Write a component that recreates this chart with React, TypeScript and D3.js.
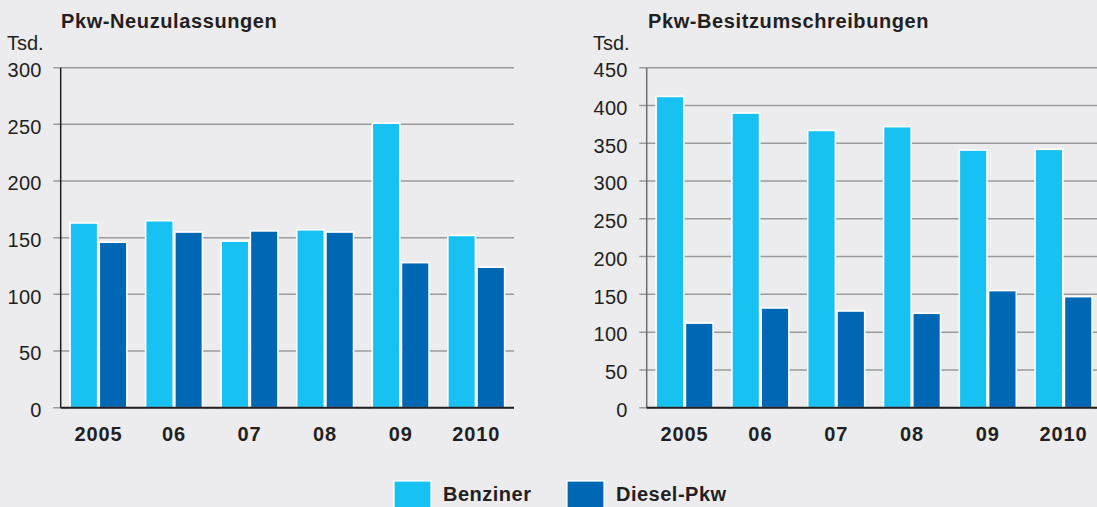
import React from "react";
import * as d3 from "d3";

const years = ["2005", "06", "07", "08", "09", "2010"];
const seriesNames = ["Benziner", "Diesel-Pkw"];
const seriesColors = ["#17C1F1", "#0067B4"];

const neuBenziner = [163, 165, 147, 157, 251, 152];
const neuDiesel = [146, 155, 156, 155, 128, 124];
const neuTicks = [0, 50, 100, 150, 200, 250, 300];

const besBenziner = [412, 390, 367, 372, 341, 342];
const besDiesel = [112, 132, 128, 125, 155, 147];
const besTicks = [0, 50, 100, 150, 200, 250, 300, 350, 400, 450];

const W = 1097;
const H = 507;
const BG = "#ECECEE";
const FONT = "'Liberation Sans', Arial, Helvetica, sans-serif";

type PanelProps = {
  title: string;
  x0: number;
  x1: number;
  gridEnd: number;
  maxV: number;
  ticks: number[];
  a: number[];
  b: number[];
  titleX: number;
  tsdX: number;
  labelGap: number;
  axisColor: string;
};

function Panel(p: PanelProps) {
  const yTop = 67.7;
  const yBot = 407.7;
  const y = d3.scaleLinear().domain([0, p.maxV]).range([yBot, yTop]);
  const xg = d3
    .scaleBand<string>()
    .domain(years)
    .range([p.x0, p.x1])
    .paddingInner(0.227)
    .paddingOuter(0.1135);
  const xs = d3.scaleBand<string>().domain(seriesNames).range([0, xg.bandwidth()]);
  const sw = 1.6;
  const data = [p.a, p.b];
  return (
    <g>
      <text
        x={p.titleX}
        y={28.3}
        fontFamily={FONT}
        fontWeight="bold"
        fontSize={20}
        letterSpacing={0.6}
        fill="#231f20"
      >
        {p.title}
      </text>
      <text x={p.tsdX} y={50} fontFamily={FONT} fontSize={20} fill="#231f20">
        Tsd.
      </text>
      {p.ticks.map((t) => (
        <g key={t}>
          <line
            x1={p.x0 - 7.4}
            x2={p.gridEnd}
            y1={y(t)}
            y2={y(t)}
            stroke="#9b9b9d"
            strokeWidth={1.5}
          />
          <text
            x={p.x0 - 7.4 - p.labelGap}
            y={y(t) + 9.3}
            textAnchor="end"
            fontFamily={FONT}
            fontSize={20}
            letterSpacing={0.3}
            fill="#231f20"
          >
            {t}
          </text>
        </g>
      ))}
      {years.map((yr, i) => (
        <g key={yr} transform={`translate(${xg(yr)},0)`}>
          {seriesNames.map((s, j) => (
            <rect
              key={s}
              x={(xs(s) as number) + sw / 2}
              y={y(data[j][i])}
              width={xs.bandwidth() - sw}
              height={yBot - y(data[j][i])}
              fill={seriesColors[j]}
              stroke="#ffffff"
              strokeWidth={sw}
            />
          ))}
          <text
            x={xg.bandwidth() / 2}
            y={441}
            textAnchor="middle"
            fontFamily={FONT}
            fontWeight="bold"
            fontSize={20}
            letterSpacing={0.9}
            fill="#231f20"
          >
            {yr}
          </text>
        </g>
      ))}
      <line x1={p.x0} x2={p.x0} y1={yTop} y2={yBot} stroke={p.axisColor} strokeWidth={1.5} />
      <line x1={p.x0} x2={p.gridEnd} y1={yBot} y2={yBot} stroke="#231f20" strokeWidth={2} />
    </g>
  );
}

export default function App() {
  return (
    <svg
      width={W}
      height={H}
      style={{ position: "absolute", left: 0, top: 0, background: BG }}
    >
      <rect x={0} y={0} width={W} height={H} fill={BG} />
      <Panel
        title="Pkw-Neuzulassungen"
        x0={60.7}
        x1={514}
        gridEnd={514}
        maxV={300}
        ticks={neuTicks}
        a={neuBenziner}
        b={neuDiesel}
        titleX={61}
        tsdX={7}
        labelGap={11.5}
        axisColor="#231f20"
      />
      <Panel
        title="Pkw-Besitzumschreibungen"
        x0={646.7}
        x1={1101.5}
        gridEnd={W}
        maxV={450}
        ticks={besTicks}
        a={besBenziner}
        b={besDiesel}
        titleX={648}
        tsdX={593}
        labelGap={11.5}
        axisColor="#6d6d6f"
      />
      {seriesNames.map((s, i) => {
        const lx = [393, 566][i];
        return (
          <g key={s}>
            <rect
              x={lx + 0.8}
              y={480.8}
              width={37.4}
              height={40}
              fill={seriesColors[i]}
              stroke="#ffffff"
              strokeWidth={1.6}
            />
            <text
              x={lx + 50}
              y={501}
              fontFamily={FONT}
              fontWeight="bold"
              fontSize={20}
              letterSpacing={0.5}
              fill="#231f20"
            >
              {s}
            </text>
          </g>
        );
      })}
    </svg>
  );
}
